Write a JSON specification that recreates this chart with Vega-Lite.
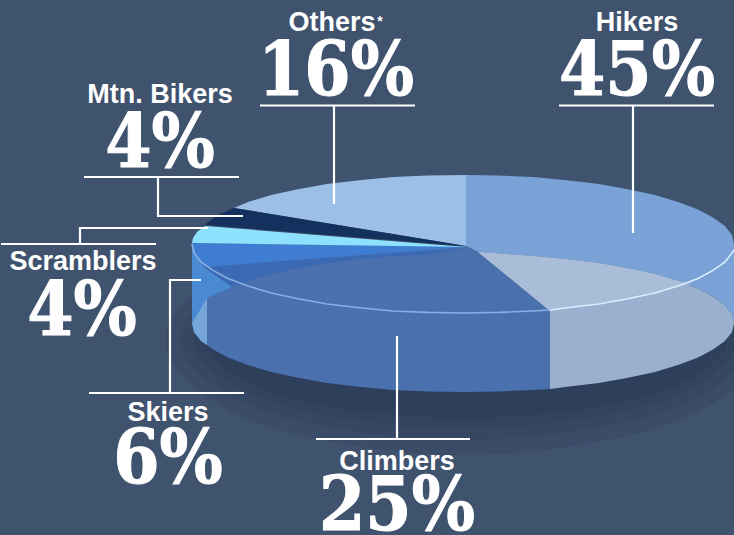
{"$schema":"https://vega.github.io/schema/vega-lite/v6.json","width":734,"height":535,"padding":0,"autosize":{"type":"none"},"background":"#3f526e","config":{"view":{"stroke":null}},
"datasets":{
"glow":[
{"g":"a","i":1,"x":165,"y":340},{"g":"a","i":2,"x":253,"y":258.7},{"g":"a","i":3,"x":465,"y":225},{"g":"a","i":4,"x":677,"y":258.7},{"g":"a","i":5,"x":765,"y":340},{"g":"a","i":6,"x":677,"y":421.3},{"g":"a","i":7,"x":465,"y":455},{"g":"a","i":8,"x":253,"y":421.3},
{"g":"b","i":1,"x":180,"y":340},{"g":"b","i":2,"x":263.5,"y":269.3},{"g":"b","i":3,"x":465,"y":240},{"g":"b","i":4,"x":666.5,"y":269.3},{"g":"b","i":5,"x":750,"y":340},{"g":"b","i":6,"x":666.5,"y":410.7},{"g":"b","i":7,"x":465,"y":440},{"g":"b","i":8,"x":263.5,"y":410.7},
{"g":"c","i":1,"x":193,"y":340},{"g":"c","i":2,"x":272.7,"y":277.8},{"g":"c","i":3,"x":465,"y":252},{"g":"c","i":4,"x":657.3,"y":277.8},{"g":"c","i":5,"x":737,"y":340},{"g":"c","i":6,"x":657.3,"y":402.2},{"g":"c","i":7,"x":465,"y":428},{"g":"c","i":8,"x":272.7,"y":402.2},
{"g":"d","i":1,"x":203,"y":340},{"g":"d","i":2,"x":279.8,"y":284.8},{"g":"d","i":3,"x":465,"y":262},{"g":"d","i":4,"x":650.2,"y":284.8},{"g":"d","i":5,"x":727,"y":340},{"g":"d","i":6,"x":650.2,"y":395.2},{"g":"d","i":7,"x":465,"y":418},{"g":"d","i":8,"x":279.8,"y":395.2}
],
"shapes":[
{"part":"Hikers","i":1,"x":466,"y":175},{"part":"Hikers","i":2,"x":498.5,"y":175.6},{"part":"Hikers","i":3,"x":533,"y":177},{"part":"Hikers","i":4,"x":567,"y":180.2},{"part":"Hikers","i":5,"x":599,"y":184},{"part":"Hikers","i":6,"x":628,"y":189.3},{"part":"Hikers","i":7,"x":655,"y":195},{"part":"Hikers","i":8,"x":678,"y":202},{"part":"Hikers","i":9,"x":698,"y":209.5},{"part":"Hikers","i":10,"x":713,"y":217.6},{"part":"Hikers","i":11,"x":725,"y":226},{"part":"Hikers","i":12,"x":732,"y":235},{"part":"Hikers","i":13,"x":734,"y":244},{"part":"Hikers","i":14,"x":734,"y":323},{"part":"Hikers","i":15,"x":732,"y":314},{"part":"Hikers","i":16,"x":725,"y":305},{"part":"Hikers","i":17,"x":713,"y":296.6},{"part":"Hikers","i":18,"x":698,"y":288.5},{"part":"Hikers","i":19,"x":678,"y":281},{"part":"Hikers","i":20,"x":655,"y":274},{"part":"Hikers","i":21,"x":628,"y":268.3},{"part":"Hikers","i":22,"x":599,"y":263},{"part":"Hikers","i":23,"x":567,"y":259.2},{"part":"Hikers","i":24,"x":533,"y":256},{"part":"Hikers","i":25,"x":478,"y":252},{"part":"Hikers","i":26,"x":466,"y":246},
{"part":"Others","i":1,"x":466,"y":175},{"part":"Others","i":2,"x":427.5,"y":175.6},{"part":"Others","i":3,"x":393,"y":177},{"part":"Others","i":4,"x":359,"y":180.2},{"part":"Others","i":5,"x":327,"y":184},{"part":"Others","i":6,"x":298,"y":189.3},{"part":"Others","i":7,"x":271,"y":195},{"part":"Others","i":8,"x":248,"y":202},{"part":"Others","i":9,"x":234,"y":208},{"part":"Others","i":10,"x":466,"y":246},
{"part":"Mtn. Bikers","i":1,"x":234,"y":208},{"part":"Mtn. Bikers","i":2,"x":466,"y":246},{"part":"Mtn. Bikers","i":3,"x":205,"y":225},{"part":"Mtn. Bikers","i":4,"x":216,"y":216},
{"part":"Climbers","i":1,"x":466,"y":246},{"part":"Climbers","i":2,"x":478,"y":252},{"part":"Climbers","i":3,"x":550,"y":311},{"part":"Climbers","i":4,"x":550,"y":389},{"part":"Climbers","i":5,"x":533,"y":390},{"part":"Climbers","i":6,"x":498.5,"y":391.4},{"part":"Climbers","i":7,"x":463,"y":392},{"part":"Climbers","i":8,"x":427.5,"y":391.4},{"part":"Climbers","i":9,"x":393,"y":390},{"part":"Climbers","i":10,"x":359,"y":386.8},{"part":"Climbers","i":11,"x":327,"y":383},{"part":"Climbers","i":12,"x":298,"y":377.7},{"part":"Climbers","i":13,"x":271,"y":372},{"part":"Climbers","i":14,"x":248,"y":365},{"part":"Climbers","i":15,"x":228,"y":357.5},{"part":"Climbers","i":16,"x":213,"y":349.4},{"part":"Climbers","i":17,"x":201,"y":341},{"part":"Climbers","i":18,"x":194,"y":332},{"part":"Climbers","i":19,"x":192,"y":323},{"part":"Climbers","i":20,"x":192,"y":244},
{"part":"Skiers back","i":1,"x":203,"y":267},{"part":"Skiers back","i":2,"x":466,"y":248},{"part":"Skiers back","i":3,"x":427.5,"y":254.6},{"part":"Skiers back","i":4,"x":393,"y":256},{"part":"Skiers back","i":5,"x":359,"y":259.2},{"part":"Skiers back","i":6,"x":327,"y":263},{"part":"Skiers back","i":7,"x":298,"y":268.3},{"part":"Skiers back","i":8,"x":271,"y":274},{"part":"Skiers back","i":9,"x":248,"y":281},{"part":"Skiers back","i":10,"x":232,"y":287},
{"part":"Skiers","i":1,"x":192,"y":243},{"part":"Skiers","i":2,"x":466,"y":247},{"part":"Skiers","i":3,"x":203,"y":267},
{"part":"Skiers side","i":1,"x":192,"y":243},{"part":"Skiers side","i":2,"x":203,"y":267},{"part":"Skiers side","i":3,"x":232,"y":287},{"part":"Skiers side","i":4,"x":207,"y":298},{"part":"Skiers side","i":5,"x":192,"y":323},
{"part":"Skiers corner","i":1,"x":207,"y":298},{"part":"Skiers corner","i":2,"x":192,"y":323},{"part":"Skiers corner","i":3,"x":194,"y":332},{"part":"Skiers corner","i":4,"x":201,"y":341},{"part":"Skiers corner","i":5,"x":207,"y":345},
{"part":"Scramblers","i":1,"x":205,"y":226},{"part":"Scramblers","i":2,"x":197,"y":232},{"part":"Scramblers","i":3,"x":193,"y":238},{"part":"Scramblers","i":4,"x":192,"y":243},{"part":"Scramblers","i":5,"x":466,"y":247},
{"part":"Hikers lower","i":1,"x":478,"y":252},{"part":"Hikers lower","i":2,"x":533,"y":256},{"part":"Hikers lower","i":3,"x":567,"y":259.2},{"part":"Hikers lower","i":4,"x":599,"y":263},{"part":"Hikers lower","i":5,"x":628,"y":268.3},{"part":"Hikers lower","i":6,"x":655,"y":274},{"part":"Hikers lower","i":7,"x":678,"y":281},{"part":"Hikers lower","i":8,"x":698,"y":288.5},{"part":"Hikers lower","i":9,"x":713,"y":296.6},{"part":"Hikers lower","i":10,"x":725,"y":305},{"part":"Hikers lower","i":11,"x":732,"y":314},{"part":"Hikers lower","i":12,"x":734,"y":323},{"part":"Hikers lower","i":13,"x":732,"y":332},{"part":"Hikers lower","i":14,"x":725,"y":341},{"part":"Hikers lower","i":15,"x":713,"y":349.4},{"part":"Hikers lower","i":16,"x":698,"y":357.5},{"part":"Hikers lower","i":17,"x":678,"y":365},{"part":"Hikers lower","i":18,"x":655,"y":372},{"part":"Hikers lower","i":19,"x":628,"y":377.7},{"part":"Hikers lower","i":20,"x":599,"y":383},{"part":"Hikers lower","i":21,"x":567,"y":386.8},{"part":"Hikers lower","i":22,"x":550,"y":389},{"part":"Hikers lower","i":23,"x":550,"y":311},
{"part":"Hikers wedge","i":1,"x":478,"y":252},{"part":"Hikers wedge","i":2,"x":533,"y":256},{"part":"Hikers wedge","i":3,"x":567,"y":259.2},{"part":"Hikers wedge","i":4,"x":599,"y":263},{"part":"Hikers wedge","i":5,"x":628,"y":268.3},{"part":"Hikers wedge","i":6,"x":655,"y":274},{"part":"Hikers wedge","i":7,"x":678,"y":281},{"part":"Hikers wedge","i":8,"x":692,"y":284},{"part":"Hikers wedge","i":9,"x":678,"y":286},{"part":"Hikers wedge","i":10,"x":655,"y":293},{"part":"Hikers wedge","i":11,"x":628,"y":298.7},{"part":"Hikers wedge","i":12,"x":599,"y":304},{"part":"Hikers wedge","i":13,"x":567,"y":307.8},{"part":"Hikers wedge","i":14,"x":550,"y":311}
],
"rim":[
{"seg":"right","i":1,"x":734,"y":250},{"seg":"right","i":2,"x":732,"y":253},{"seg":"right","i":3,"x":725,"y":262},{"seg":"right","i":4,"x":713,"y":270.4},{"seg":"right","i":5,"x":698,"y":278.5},{"seg":"right","i":6,"x":678,"y":286},{"seg":"right","i":7,"x":655,"y":293},{"seg":"right","i":8,"x":628,"y":298.7},{"seg":"right","i":9,"x":599,"y":304},{"seg":"right","i":10,"x":567,"y":307.8},{"seg":"right","i":11,"x":550,"y":310},
{"seg":"left","i":1,"x":550,"y":310},{"seg":"left","i":2,"x":533,"y":311},{"seg":"left","i":3,"x":498.5,"y":312.4},{"seg":"left","i":4,"x":463,"y":313},{"seg":"left","i":5,"x":427.5,"y":312.4},{"seg":"left","i":6,"x":393,"y":311},{"seg":"left","i":7,"x":359,"y":307.8},{"seg":"left","i":8,"x":327,"y":304},{"seg":"left","i":9,"x":298,"y":298.7},{"seg":"left","i":10,"x":271,"y":293},{"seg":"left","i":11,"x":248,"y":286},{"seg":"left","i":12,"x":228,"y":278.5},{"seg":"left","i":13,"x":213,"y":270.4},{"seg":"left","i":14,"x":201,"y":262},{"seg":"left","i":15,"x":194,"y":253},{"seg":"left","i":16,"x":192,"y":244}
],
"leaders":[
{"who":"Others bar","i":1,"x":260,"y":105.5},{"who":"Others bar","i":2,"x":415,"y":105.5},
{"who":"Others","i":1,"x":334,"y":105.5},{"who":"Others","i":2,"x":334,"y":204},
{"who":"Hikers bar","i":1,"x":559,"y":105.5},{"who":"Hikers bar","i":2,"x":714,"y":105.5},
{"who":"Hikers","i":1,"x":633,"y":105.5},{"who":"Hikers","i":2,"x":633,"y":233},
{"who":"Bikers bar","i":1,"x":84,"y":177},{"who":"Bikers bar","i":2,"x":239,"y":177},
{"who":"Bikers","i":1,"x":158,"y":177},{"who":"Bikers","i":2,"x":158,"y":216},{"who":"Bikers","i":3,"x":243,"y":216},
{"who":"Scramblers bar","i":1,"x":1,"y":244},{"who":"Scramblers bar","i":2,"x":156,"y":244},
{"who":"Scramblers","i":1,"x":80,"y":244},{"who":"Scramblers","i":2,"x":80,"y":228},{"who":"Scramblers","i":3,"x":208,"y":228},
{"who":"Skiers bar","i":1,"x":89,"y":393},{"who":"Skiers bar","i":2,"x":244,"y":393},
{"who":"Skiers","i":1,"x":170,"y":393},{"who":"Skiers","i":2,"x":170,"y":280},{"who":"Skiers","i":3,"x":201,"y":280},
{"who":"Climbers bar","i":1,"x":316,"y":439},{"who":"Climbers bar","i":2,"x":470,"y":439},
{"who":"Climbers","i":1,"x":397,"y":336},{"who":"Climbers","i":2,"x":397,"y":439}
],
"labels":[
{"segment":"Hikers","share":0.45,"nameX":637,"nameY":31,"shareX":637,"shareY":95},
{"segment":"Others","share":0.16,"nameX":332,"nameY":31,"shareX":336,"shareY":95},
{"segment":"Mtn. Bikers","share":0.04,"nameX":160,"nameY":103,"shareX":160,"shareY":167},
{"segment":"Scramblers","share":0.04,"nameX":83,"nameY":270,"shareX":82,"shareY":335},
{"segment":"Skiers","share":0.06,"nameX":168,"nameY":421,"shareX":168,"shareY":483},
{"segment":"Climbers","share":0.25,"nameX":397,"nameY":470,"shareX":397,"shareY":530}
],
"note":[{"t":"*","x":380,"y":26}]
},
"layer":[
{"data":{"name":"glow"},"mark":{"type":"line","strokeWidth":0,"interpolate":"cardinal-closed","fill":"#1f2a45","fillOpacity":0.14},
"encoding":{"x":{"field":"x","type":"quantitative","scale":{"domain":[0,734]},"axis":null},"y":{"field":"y","type":"quantitative","scale":{"domain":[535,0]},"axis":null},"order":{"field":"i"},"detail":{"field":"g"}}},
{"data":{"name":"shapes"},"mark":{"type":"line","strokeWidth":0},
"encoding":{"x":{"field":"x","type":"quantitative","scale":{"domain":[0,734]},"axis":null},"y":{"field":"y","type":"quantitative","scale":{"domain":[535,0]},"axis":null},"order":{"field":"i"},
"fill":{"field":"part","type":"nominal","legend":null,"scale":{"domain":["Hikers","Others","Mtn. Bikers","Climbers","Skiers back","Skiers","Skiers side","Skiers corner","Scramblers","Hikers lower","Hikers wedge"],"range":["#7aa2d7","#9cbfe8","#14305f","#4a70ae","#3b69b4","#3e7dd2","#4a8ad2","#76a6d8","#8ee0ff","#99b0ce","#a9bcd8"]}}}},
{"data":{"name":"rim"},"mark":{"type":"line","strokeWidth":1.6},
"encoding":{"x":{"field":"x","type":"quantitative","scale":{"domain":[0,734]},"axis":null},"y":{"field":"y","type":"quantitative","scale":{"domain":[535,0]},"axis":null},"order":{"field":"i"},
"stroke":{"field":"seg","type":"nominal","legend":null,"scale":{"domain":["right","left"],"range":["#d8eeff","#86b0e2"]}}}},
{"data":{"name":"leaders"},"mark":{"type":"line","stroke":"#ffffff","strokeWidth":2.2,"strokeCap":"butt"},
"encoding":{"x":{"field":"x","type":"quantitative","scale":{"domain":[0,734]},"axis":null},"y":{"field":"y","type":"quantitative","scale":{"domain":[535,0]},"axis":null},"order":{"field":"i"},"detail":{"field":"who"}}},
{"data":{"name":"labels"},"mark":{"type":"text","font":"Liberation Sans","fontWeight":"bold","fontSize":27,"color":"#ffffff","align":"center","baseline":"alphabetic"},
"encoding":{"x":{"field":"nameX","type":"quantitative","scale":{"domain":[0,734]},"axis":null},"y":{"field":"nameY","type":"quantitative","scale":{"domain":[535,0]},"axis":null},"text":{"field":"segment"}}},
{"data":{"name":"labels"},"mark":{"type":"text","font":"DejaVu Serif Condensed, DejaVu Serif","fontWeight":"bold","fontSize":74,"color":"#ffffff","stroke":"#ffffff","strokeWidth":1,"align":"center","baseline":"alphabetic"},
"encoding":{"x":{"field":"shareX","type":"quantitative","scale":{"domain":[0,734]},"axis":null},"y":{"field":"shareY","type":"quantitative","scale":{"domain":[535,0]},"axis":null},"text":{"field":"share","format":".0%"}}},
{"data":{"name":"note"},"mark":{"type":"text","font":"Liberation Sans","fontWeight":"bold","fontSize":14,"color":"#ffffff","align":"center","baseline":"alphabetic"},
"encoding":{"x":{"field":"x","type":"quantitative","scale":{"domain":[0,734]},"axis":null},"y":{"field":"y","type":"quantitative","scale":{"domain":[535,0]},"axis":null},"text":{"field":"t"}}}
]}
